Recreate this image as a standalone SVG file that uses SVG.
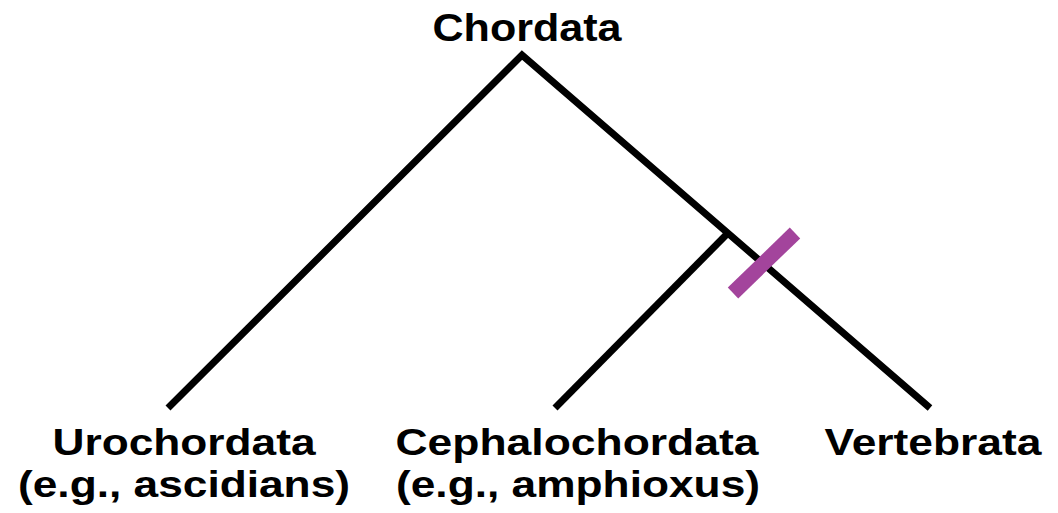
<svg xmlns="http://www.w3.org/2000/svg" width="1058" height="513" viewBox="0 0 1058 513">
<style>
.lbl{font-family:"Liberation Sans",Arial,sans-serif;font-weight:bold;font-size:37px;fill:#000;text-anchor:middle}
.br{stroke:#000;stroke-width:7;fill:none;stroke-linecap:butt}
</style>
<rect width="1058" height="513" fill="#fff"/>
<g id="connectors">
<polyline class="br" points="168,408 522,55 930,408" stroke-linejoin="miter"/>
<line class="br" x1="728" y1="233" x2="555" y2="408"/>
</g>
<g id="marker">
<line x1="795" y1="233" x2="733" y2="293" stroke="#a3449c" stroke-width="15"/>
</g>
<g id="chordata"><text class="lbl" x="527" y="41" textLength="189" lengthAdjust="spacingAndGlyphs" style="font-size:39px">Chordata</text></g>
<g id="urochordata">
<text class="lbl" x="184" y="455" textLength="263" lengthAdjust="spacingAndGlyphs">Urochordata</text>
<text class="lbl" x="184" y="497" textLength="332" lengthAdjust="spacingAndGlyphs">(e.g., ascidians)</text>
</g>
<g id="cephalochordata">
<text class="lbl" x="577" y="455" textLength="363" lengthAdjust="spacingAndGlyphs">Cephalochordata</text>
<text class="lbl" x="578" y="497" textLength="364" lengthAdjust="spacingAndGlyphs">(e.g., amphioxus)</text>
</g>
<g id="vertebrata"><text class="lbl" x="933" y="455" textLength="217" lengthAdjust="spacingAndGlyphs">Vertebrata</text></g>
</svg>
